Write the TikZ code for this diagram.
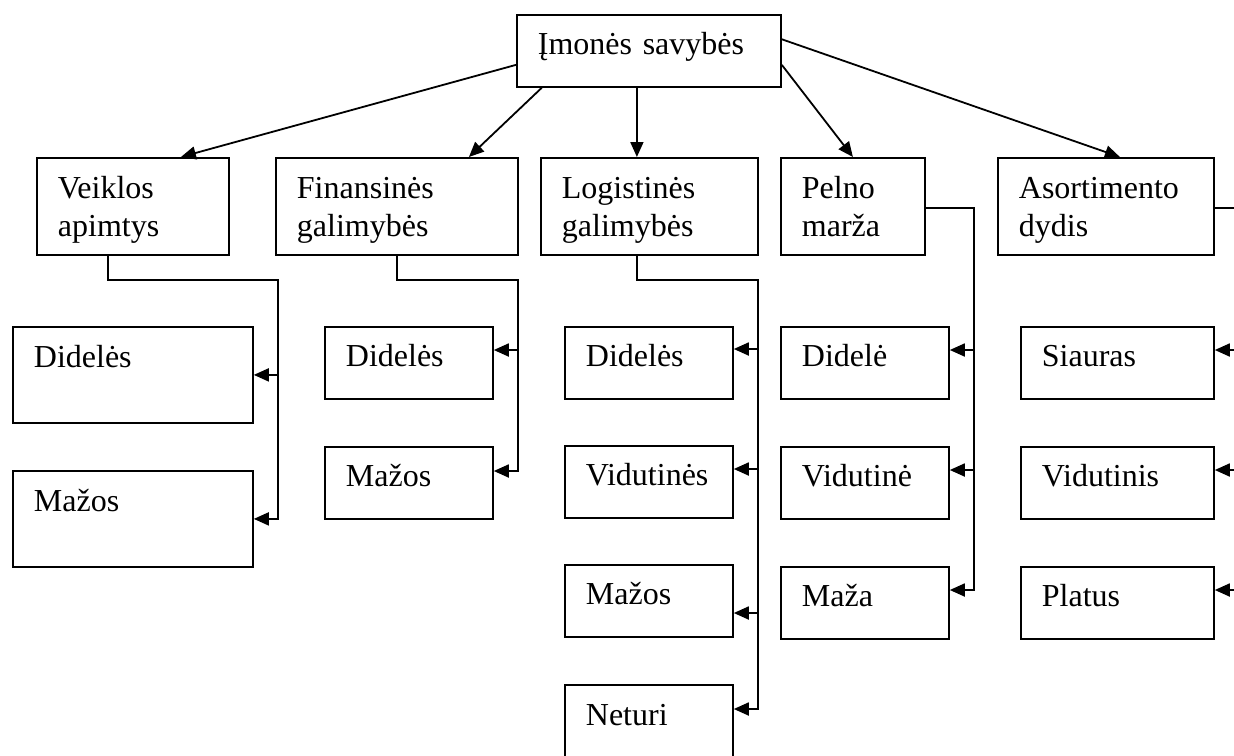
\documentclass[tikz,border=0pt]{standalone}
\usepackage{fontspec}
\setmainfont{Liberation Serif}
\usetikzlibrary{arrows.meta}
\hyphenpenalty=10000

\tikzset{
  box/.style={draw, anchor=north west, inner xsep=10.5pt, inner ysep=0pt,
    align=left, text height=20pt, text depth=16pt},
  head/.style={box, text height=20.5pt, text depth=28pt},
  wide/.style={box, text height=20.5pt, text depth=27.5pt}
}

\begin{document}
\begin{tikzpicture}[x=0.5pt, y=-0.5pt, line width=0.9pt,
    >={Triangle[length=7.5pt,width=6.5pt]}, font=\fontsize{16}{19}\selectfont]
    \fill[white] (0,0) rectangle (1234,755);
    \useasboundingbox (0,0) rectangle (1234,755);
    % root
    \node[box, text width=111pt] (root) at (516,14) {Įmonės savybės};
    % properties
    \node[head, text width=75pt] (ver) at (36,157) {Veiklos\\apimtys};
    \node[head, text width=100pt] (fin) at (275,157) {Finansinės\\galimybės};
    \node[head, text width=87.5pt] (log) at (540,157) {Logistinės\\galimybės};
    \node[head, text width=51pt] (pel) at (780,157) {Pelno\\marža};
    \node[head, text width=87pt] (aso) at (997,157) {Asortimento\\dydis};
    % values
    \node[wide, text width=99pt] (ve1) at (12,326) {Didelės};
    \node[wide, text width=99pt] (ve2) at (12,470) {Mažos};
    \node[box, text width=63pt] (fi1) at (324,326) {Didelės};
    \node[box, text width=63pt] (fi2) at (324,446) {Mažos};
    \node[box, text width=63pt] (lo1) at (564,326) {Didelės};
    \node[box, text width=63pt] (lo2) at (564,445) {Vidutinės};
    \node[box, text width=63pt] (lo3) at (564,564) {Mažos};
    \node[wide, text width=63pt] (lo4) at (564,684) {Neturi};
    \node[box, text width=63pt] (pe1) at (780,326) {Didelė};
    \node[box, text width=63pt] (pe2) at (780,446) {Vidutinė};
    \node[box, text width=63pt] (pe3) at (780,566) {Maža};
    \node[box, text width=75.5pt] (as1) at (1020,326) {Siauras};
    \node[box, text width=75.5pt] (as2) at (1020,446) {Vidutinis};
    \node[box, text width=75.5pt] (as3) at (1020,566) {Platus};

    % root to properties
    \coordinate (login) at ([xshift=-6.25pt]log.north);
    \draw[->] (root.186) -- ([xshift=24pt]ver.north);
    \draw[->] (root.199) -- ([xshift=36pt]fin.north);
    \draw[->] (root.south -| login) -- (login);
    \draw[->] (root.354) -- (pel.north);
    \draw[->] (root.5) -- ([xshift=7pt]aso.north);

    % Veiklos apimtys
    \draw[->] ([xshift=-12.5pt]ver.south) -- ++(0,-12pt) -| ([xshift=12pt]ve2.east) -- (ve2.east);
    \draw[<-] (ve1.east) -- ++(12pt,0);
    % Finansines galimybes
    \draw[->] (fin.south) -- ++(0,-12pt) -| ([xshift=12pt,yshift=-12.5pt]fi2.north east) -- ([yshift=-12.5pt]fi2.north east);
    \draw[<-] ([yshift=-12pt]fi1.north east) -- ++(12pt,0);
    % Logistines galimybes
    \draw[->] (log.south -| login) -- ++(0,-12pt) -| ([xshift=12pt,yshift=-12.5pt]lo4.north east) -- ([yshift=-12.5pt]lo4.north east);
    \draw[<-] ([yshift=-11.5pt]lo1.north east) -- ++(12pt,0);
    \draw[<-] ([yshift=-12pt]lo2.north east) -- ++(12pt,0);
    \draw[<-] ([yshift=-24.5pt]lo3.north east) -- ++(12pt,0);
    % Pelno marza
    \draw[->] ([yshift=-0.75pt]pel.east) -| ([xshift=12pt,yshift=-12pt]pe3.north east) -- ([yshift=-12pt]pe3.north east);
    \foreach \n in {pe1,pe2}
        \draw[<-] ([yshift=-12pt]\n.north east) -- ++(12pt,0);
    % Asortimento dydis
    \draw[->] ([yshift=-0.75pt]aso.east) -| ([xshift=12pt,yshift=-12pt]as3.north east) -- ([yshift=-12pt]as3.north east);
    \foreach \n in {as1,as2}
        \draw[<-] ([yshift=-12pt]\n.north east) -- ++(12pt,0);
\end{tikzpicture}
\end{document}
